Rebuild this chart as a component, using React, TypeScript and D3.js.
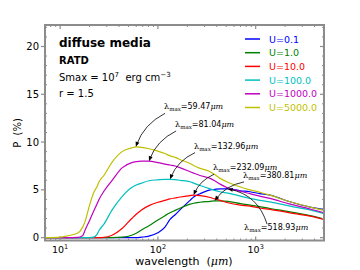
import * as d3 from 'd3';

// wavelength grid (micron) shared by all curves
const wavelength = [7, 10, 12, 15, 17, 18, 20, 22, 24, 25, 28, 34, 43, 54, 60, 68, 81, 100, 118, 133, 150, 170, 213, 232, 270, 342, 381, 433, 519, 700, 876, 1100, 1400, 2250, 3600, 5000];

// polarization degree P (%) for each radiation strength U
const pU01 = [0, 0, 0, 0, 0, 0, 0, 0, 0, 0, 0, 0, 0, 0, 0, 0.05, 0.15, 0.5, 1.1, 1.9, 2.4, 2.95, 3.9, 4.25, 4.6, 5.0, 5.05, 5.1, 5.1, 4.9, 4.8, 4.6, 4.45, 3.75, 3.2, 2.95];
const pU1 = [0, 0, 0, 0, 0, 0, 0, 0, 0, 0, 0, 0, 0.05, 0.25, 0.45, 0.8, 1.25, 1.85, 2.3, 2.6, 2.85, 3.1, 3.5, 3.6, 3.7, 3.8, 3.85, 3.85, 3.8, 3.55, 3.4, 3.25, 3.05, 2.7, 2.3, 1.95];
const pU10 = [0, 0, 0, 0, 0, 0, 0, 0, 0, 0, 0.02, 0.25, 0.95, 2.0, 2.45, 2.9, 3.35, 3.7, 3.9, 4.05, 4.15, 4.25, 4.4, 4.45, 4.4, 4.2, 4.05, 3.9, 3.65, 3.4, 3.3, 3.1, 2.95, 2.6, 2.25, 1.9];
const pU100 = [0, 0, 0, 0, 0, 0, 0, 0.05, 0.4, 0.75, 1.4, 2.9, 4.3, 5.25, 5.5, 5.7, 5.95, 6.05, 6.1, 6.1, 6.08, 6.0, 5.85, 5.7, 5.45, 5.1, 4.95, 4.8, 4.65, 4.35, 4.1, 3.9, 3.75, 3.3, 2.9, 2.5];
const pU1000 = [0, 0, 0, 0.02, 0.2, 0.8, 1.8, 2.75, 3.6, 4.0, 4.85, 6.0, 7.3, 7.85, 7.95, 8.0, 8.0, 7.85, 7.7, 7.6, 7.5, 7.3, 6.9, 6.75, 6.5, 6.2, 5.95, 5.6, 5.2, 4.85, 4.6, 4.35, 4.1, 3.5, 3.0, 2.6];
const pU5000 = [0, 0.05, 0.2, 0.45, 1.1, 1.7, 3.4, 4.7, 5.4, 5.85, 6.5, 7.9, 9.0, 9.4, 9.5, 9.45, 9.3, 9.05, 8.8, 8.55, 8.4, 8.15, 7.75, 7.55, 7.25, 6.9, 6.6, 6.2, 5.8, 5.3, 5.0, 4.75, 4.45, 3.75, 3.2, 2.85];

const seriesValues = [pU01, pU1, pU10, pU100, pU1000, pU5000];
const seriesNames = ['U=0.1', 'U=1.0', 'U=10.0', 'U=100.0', 'U=1000.0', 'U=5000.0'];
const seriesColors = ['#0000ff', '#008000', '#ff0000', '#00bfbf', '#bf00bf', '#bfbf00'];

// peak annotations: peak position, and label anchor (data coords)
const peakLambda = [59.47, 81.04, 132.96, 232.09, 380.81, 518.93];
const peakP = [9.5, 8.0, 6.1, 4.45, 3.85, 5.1];
const labelLambda = [115.7, 150, 234.5, 366.7, 743, 761];
const labelP = [13.43, 11.58, 9.32, 7.05, 6.25, 0.78];

const xMajor = [10, 100, 1000];
const xMajorExp = ['1', '2', '3'];
const yMajor = [0, 5, 10, 15, 20];

const FONT = 'DejaVu Sans';
const AXIS = '#8c8c8c';

export default function App() {
  const x = d3.scaleLog().domain([7, 5000]).range([45, 324]);
  const y = d3.scaleLinear().domain([-0.3, 22.25]).range([240.5, 25]);
  const [x0, x1] = x.range();
  const [y0, y1] = y.range();

  const line = d3
    .line<number>()
    .x((_, i) => x(wavelength[i]))
    .y((d) => y(d))
    .curve(d3.curveMonotoneX);

  const xMinor: number[] = [];
  for (let e = 0; e < 4; e++) {
    for (let k = 2; k < 10; k++) {
      const v = k * Math.pow(10, e);
      if (v >= 7 && v <= 5000) xMinor.push(v);
    }
  }
  const yMinor = d3.range(0, 23).filter((v) => v % 5 !== 0);

  const arrows = peakLambda.map((lam, i) => {
    const tx = x(lam);
    const ty = y(peakP[i]);
    const lx = x(labelLambda[i]);
    const ly = y(labelP[i]);
    const last = i === peakLambda.length - 1;
    const sx = last ? lx + 23 : lx + 1;
    const sy = last ? ly - 6 : ly + 4;
    const rad = last ? 0.3 : 0.2;
    const dx = tx - sx;
    const dy = ty - sy;
    const cx = (sx + tx) / 2 - rad * dy;
    const cy = (sy + ty) / 2 + rad * dx;
    const ax = tx - cx;
    const ay = ty - cy;
    const len = Math.hypot(ax, ay);
    const ux = ax / len;
    const uy = ay / len;
    const head = `M${tx},${ty} L${tx - ux * 5 - uy * 2},${ty - uy * 5 + ux * 2} L${tx - ux * 5 + uy * 2},${ty - uy * 5 - ux * 2} Z`;
    return { path: `M${sx},${sy} Q${cx},${cy} ${tx - ux * 2},${ty - uy * 2}`, head, lx, ly };
  });

  return (
    <svg
      width={360}
      height={270}
      style={{ position: 'absolute', left: 0, top: 0, background: '#fff' }}
      fontFamily={FONT}
    >
      <defs>
        <clipPath id="plot">
          <rect x={x0} y={y1} width={x1 - x0} height={y0 - y1} />
        </clipPath>
      </defs>

      {/* curves */}
      <g clipPath="url(#plot)">
        {seriesValues.map((vals, i) => (
          <path key={i} d={line(vals) || ''} fill="none" stroke={seriesColors[i]} strokeWidth={1.2} />
        ))}
      </g>

      {/* frame */}
      <rect x={x0} y={y1} width={x1 - x0} height={y0 - y1} fill="none" stroke={AXIS} strokeWidth={2} />

      {/* x ticks */}
      {xMajor.map((v, i) => (
        <g key={'xm' + v}>
          <line x1={x(v)} x2={x(v)} y1={y0} y2={y0 - 4} stroke={AXIS} strokeWidth={1.2} />
          <line x1={x(v)} x2={x(v)} y1={y1} y2={y1 + 4} stroke={AXIS} strokeWidth={1.2} />
          <text x={x(v)} y={y0 + 12} fontSize={9.5} textAnchor="middle">
            10<tspan dy={-4} fontSize={6.5}>{xMajorExp[i]}</tspan>
          </text>
        </g>
      ))}
      {xMinor.map((v) => (
        <g key={'xn' + v}>
          <line x1={x(v)} x2={x(v)} y1={y0} y2={y0 - 2} stroke={AXIS} strokeWidth={1} />
          <line x1={x(v)} x2={x(v)} y1={y1} y2={y1 + 2} stroke={AXIS} strokeWidth={1} />
        </g>
      ))}

      {/* y ticks */}
      {yMajor.map((v) => (
        <g key={'ym' + v}>
          <line x1={x0 - 4} x2={x0} y1={y(v)} y2={y(v)} stroke={AXIS} strokeWidth={1.2} />
          <line x1={x1} x2={x1 - 4} y1={y(v)} y2={y(v)} stroke={AXIS} strokeWidth={1.2} />
          <text x={x0 - 6} y={y(v) + 3.5} fontSize={10} textAnchor="end">
            {v}
          </text>
        </g>
      ))}
      {yMinor.map((v) => (
        <g key={'yn' + v}>
          <line x1={x0} x2={x0 + 2} y1={y(v)} y2={y(v)} stroke={AXIS} strokeWidth={1} />
          <line x1={x1} x2={x1 - 2} y1={y(v)} y2={y(v)} stroke={AXIS} strokeWidth={1} />
        </g>
      ))}

      {/* axis labels */}
      <text x={184} y={265} fontSize={11} textAnchor="middle">
        wavelength{'\u00a0\u00a0'}(<tspan fontFamily="DejaVu Serif" fontStyle="italic">μm</tspan>)
      </text>
      <text transform="translate(21,133) rotate(-90)" fontSize={10} textAnchor="middle">
        P{'\u00a0\u00a0'}(%)
      </text>

      {/* info text */}
      <text x={59} y={47} fontSize={12} fontWeight="bold">diffuse media</text>
      <text x={59} y={64} fontSize={10} fontWeight="bold">RATD</text>
      <text x={59} y={81} fontSize={10}>
        Smax = 10<tspan dy={-4} fontSize={7}>7</tspan>
        <tspan dy={4}>{'\u00a0\u00a0'}erg cm</tspan>
        <tspan dy={-4} fontSize={7}>−3</tspan>
      </text>
      <text x={59} y={97} fontSize={10}>r = 1.5</text>

      {/* legend */}
      {seriesNames.map((name, i) => {
        const ly = 39 + i * 13.7;
        return (
          <g key={name}>
            <line x1={245} x2={260} y1={ly} y2={ly} stroke={seriesColors[i]} strokeWidth={1.5} />
            <text x={269} y={ly + 3.5} fontSize={9.5} fill={seriesColors[i]}>
              {name}
            </text>
          </g>
        );
      })}

      {/* peak annotations */}
      {arrows.map((a, i) => (
        <g key={'a' + i}>
          <path d={a.path} fill="none" stroke="#000" strokeWidth={0.8} />
          <path d={a.head} fill="#000" />
          <text x={a.lx} y={a.ly} fontSize={8}>
            <tspan fontFamily="DejaVu Serif">λ</tspan>
            <tspan dy={2} fontSize={5.5} fontFamily="DejaVu Serif">max</tspan>
            <tspan dy={-2}>={peakLambda[i].toFixed(2)}</tspan>
            <tspan fontFamily="DejaVu Serif" fontStyle="italic">μm</tspan>
          </text>
        </g>
      ))}
    </svg>
  );
}
